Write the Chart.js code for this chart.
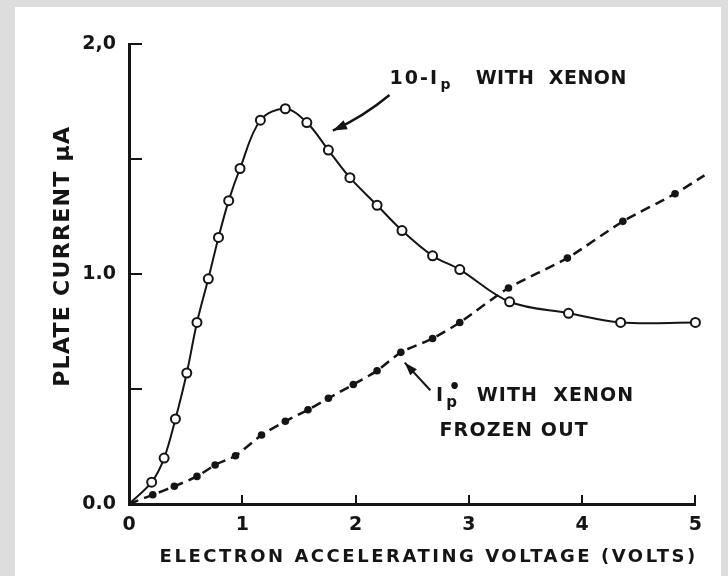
<!DOCTYPE html>
<html>
<head>
<meta charset="utf-8">
<script src="https://cdn.jsdelivr.net/npm/chart.js@4.4.0/dist/chart.umd.min.js"></script>
<style>
    html, body { margin: 0; padding: 0; background: #dddddd; }
    #frame { position: absolute; left: 15px; top: 7px; width: 706px; height: 569px; background: #ffffff; }
    canvas { display: block; }
</style>
</head>
<body>
<div id="frame"><canvas id="plateChart" width="706" height="569"></canvas></div>
<script>
// 10 x Ip with xenon (open circles), volts / microamps
const xenonV = [0.20, 0.31, 0.41, 0.51, 0.60, 0.70, 0.79, 0.88, 0.98, 1.16, 1.38, 1.57, 1.76, 1.95, 2.19, 2.41, 2.68, 2.92, 3.36, 3.88, 4.34, 5.00];
const xenonI = [0.095, 0.20, 0.37, 0.57, 0.79, 0.98, 1.16, 1.32, 1.46, 1.67, 1.72, 1.66, 1.54, 1.42, 1.30, 1.19, 1.08, 1.02, 0.88, 0.83, 0.79, 0.79];
// Ip* with xenon frozen out (filled dots)
const frozenV = [0.21, 0.40, 0.60, 0.76, 0.94, 1.17, 1.38, 1.58, 1.76, 1.98, 2.19, 2.40, 2.68, 2.92, 3.35, 3.87, 4.36, 4.82];
const frozenI = [0.04, 0.077, 0.12, 0.17, 0.21, 0.30, 0.36, 0.41, 0.46, 0.52, 0.58, 0.66, 0.72, 0.79, 0.94, 1.07, 1.23, 1.35];
// where the drawn curves start and run off the right edge
const xenonEnds = [[0, 0], [5.18, 0.79]];
const frozenEnds = [[0, 0], [5.08, 1.43]];

const yTickLabels = { 0: "0.0", 1: "1.0", 2: "2,0" };

const ink = "#151515";
const fontFamily = '"DejaVu Sans", sans-serif';

function curve(vs, is, ends) {
    const pts = [{ x: ends[0][0], y: ends[0][1] }];
    vs.forEach((v, k) => pts.push({ x: v, y: is[k] }));
    pts.push({ x: ends[1][0], y: ends[1][1] });
    return pts;
}

// marker on measured points only, not on the curve ends
function markerSize(r) {
    return (c) => (c.dataIndex === 0 || c.dataIndex === c.dataset.data.length - 1) ? 0 : r;
}

function fitText(ctx, str, left, mid, width, size) {
    ctx.font = "bold " + size + "px " + fontFamily;
    ctx.letterSpacing = "0px";
    const w0 = ctx.measureText(str).width;
    ctx.letterSpacing = ((width - w0) / (str.length - 1)).toFixed(2) + "px";
    ctx.textAlign = "left";
    ctx.textBaseline = "middle";
    ctx.fillText(str, left, mid);
    ctx.letterSpacing = "0px";
}

function arrowHead(ctx, fromX, fromY, tipX, tipY, len, half) {
    const a = Math.atan2(tipY - fromY, tipX - fromX);
    ctx.beginPath();
    ctx.moveTo(tipX, tipY);
    ctx.lineTo(tipX - len * Math.cos(a) + half * Math.sin(a), tipY - len * Math.sin(a) - half * Math.cos(a));
    ctx.lineTo(tipX - len * Math.cos(a) - half * Math.sin(a), tipY - len * Math.sin(a) + half * Math.cos(a));
    ctx.closePath();
    ctx.fill();
}

const notes = {
    id: "notes",
    afterDraw(chart) {
        const ctx = chart.ctx;
        const px = (v) => chart.scales.x.getPixelForValue(v);
        const py = (v) => chart.scales.y.getPixelForValue(v);
        ctx.save();
        ctx.fillStyle = ink;
        ctx.strokeStyle = ink;

        // axis titles
        fitText(ctx, "ELECTRON ACCELERATING VOLTAGE (VOLTS)", px(0.27), chart.chartArea.bottom + 53, px(5) - px(0.27), 18);
        ctx.save();
        ctx.translate(chart.chartArea.left - 66, py(0.51));
        ctx.rotate(-Math.PI / 2);
        fitText(ctx, "PLATE CURRENT \u03bcA", 0, 0, py(0.51) - py(1.64), 22);
        ctx.restore();

        // 10 Ip with xenon
        fitText(ctx, "10-I", px(2.30), py(1.85), px(2.72) - px(2.30), 19);
        ctx.font = "bold 14px " + fontFamily;
        ctx.fillText("p", px(2.75), py(1.85) + 6);
        fitText(ctx, "WITH  XENON", px(3.06), py(1.85), px(4.39) - px(3.06), 19);
        ctx.lineWidth = 2.5;
        ctx.beginPath();
        ctx.moveTo(px(2.30), py(1.78));
        ctx.quadraticCurveTo(px(2.07), py(1.686), px(1.80), py(1.625));
        ctx.stroke();
        arrowHead(ctx, px(2.07), py(1.686), px(1.80), py(1.625), 14, 5);

        // Ip* with xenon frozen out
        ctx.font = "bold 19px " + fontFamily;
        ctx.textBaseline = "middle";
        ctx.fillText("I", px(2.71), py(0.469));
        ctx.font = "bold 19px " + fontFamily;
        ctx.fillText("\u2022", px(2.82), py(0.506));
        ctx.font = "bold 15px " + fontFamily;
        ctx.fillText("p", px(2.80), py(0.437));
        fitText(ctx, "WITH  XENON", px(3.07), py(0.469), px(4.45) - px(3.07), 19);
        fitText(ctx, "FROZEN OUT", px(2.74), py(0.318), px(4.05) - px(2.74), 19);
        ctx.lineWidth = 2;
        ctx.beginPath();
        ctx.moveTo(px(2.66), py(0.495));
        ctx.lineTo(px(2.434), py(0.615));
        ctx.stroke();
        arrowHead(ctx, px(2.66), py(0.495), px(2.434), py(0.615), 13, 4.5);

        ctx.restore();
    }
};

const tickFont = { family: fontFamily, size: 19, weight: "bold" };

new Chart(document.getElementById("plateChart"), {
    type: "line",
    data: {
        datasets: [
            {
                label: "10 Ip with xenon",
                data: curve(xenonV, xenonI, xenonEnds),
                borderColor: ink,
                borderWidth: 2,
                tension: 0.35,
                pointRadius: markerSize(4.5),
                pointBackgroundColor: "#ffffff",
                pointBorderColor: ink,
                pointBorderWidth: 2,
                clip: false,
            },
            {
                label: "Ip* with xenon frozen out",
                data: curve(frozenV, frozenI, frozenEnds),
                borderColor: ink,
                borderWidth: 2.5,
                borderDash: [10, 6],
                tension: 0.2,
                pointRadius: markerSize(3.8),
                pointBackgroundColor: ink,
                pointBorderWidth: 0,
                clip: false,
            },
        ],
    },
    options: {
        responsive: false,
        animation: false,
        layout: { padding: { left: 0, top: 32, right: 21, bottom: 0 } },
        plugins: {
            legend: { display: false },
            tooltip: { enabled: false },
        },
        scales: {
            x: {
                type: "linear",
                min: 0,
                max: 5,
                afterFit: (scale) => { scale.height = 72; },
                ticks: { stepSize: 1, color: ink, font: tickFont, padding: 19 },
                grid: { drawOnChartArea: false, tickLength: -9, color: ink, lineWidth: 2 },
                border: { color: ink, width: 3 },
            },
            y: {
                min: 0,
                max: 2,
                afterFit: (scale) => { scale.width = 114; },
                ticks: {
                    stepSize: 0.5,
                    color: ink,
                    font: tickFont,
                    padding: 26,
                    callback: (v) => yTickLabels[v] || "",
                },
                grid: { drawOnChartArea: false, tickLength: -13, color: ink, lineWidth: 2 },
                border: { color: ink, width: 3 },
            },
        },
    },
    plugins: [notes],
});
</script>
</body>
</html>
